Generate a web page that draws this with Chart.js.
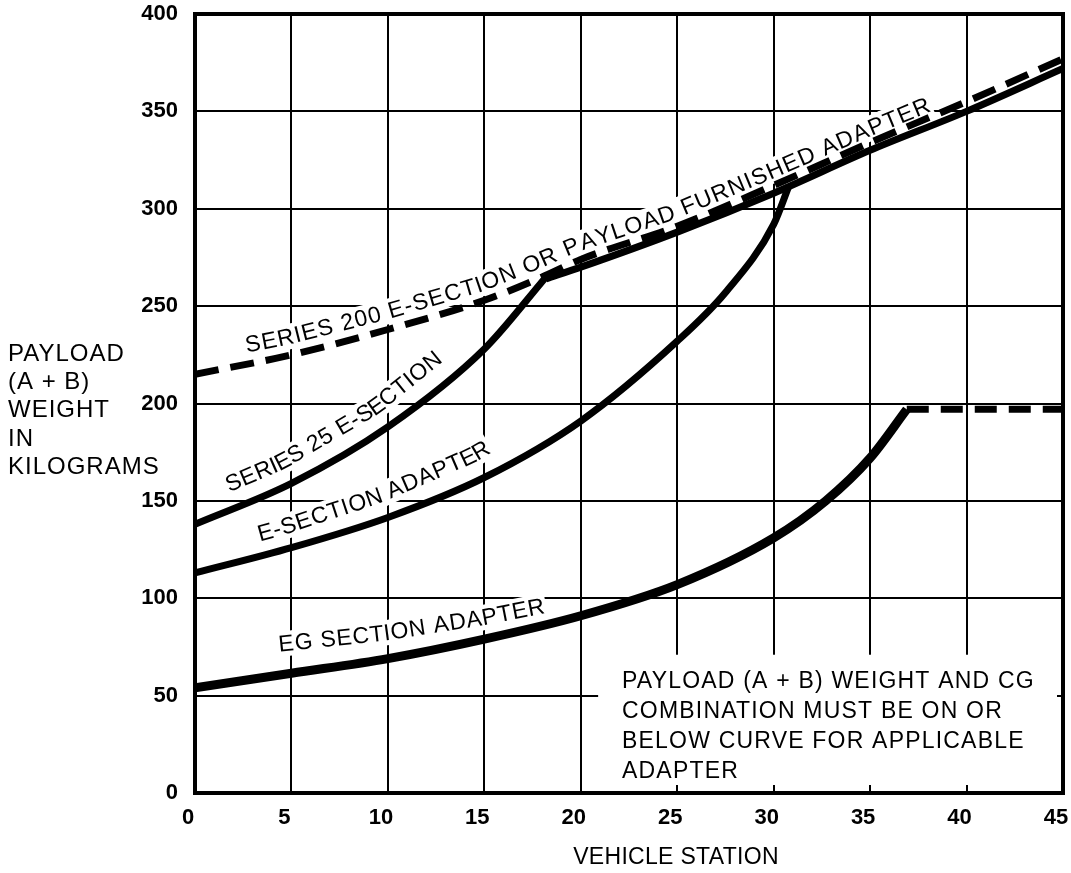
<!DOCTYPE html>
<html>
<head>
<meta charset="utf-8">
<title>Payload weight vs vehicle station</title>
<script src="https://cdn.jsdelivr.net/npm/chart.js@4.4.1/dist/chart.umd.min.js"></script>
<style>
    html, body { margin: 0; padding: 0; background: #fff; }
    #wrap { width: 1071px; height: 873px; }
</style>
</head>
<body>
<div id="wrap"><canvas id="payloadChart" width="1071" height="873"></canvas></div>
<script>
/* --------------------------
   DATA
--------------------------- */
const stationTicks = [0, 5, 10, 15, 20, 25, 30, 35, 40, 45];
const weightTicks = [0, 50, 100, 150, 200, 250, 300, 350, 400];

// Series 200 E-section or payload furnished adapter (dashed)
const s200Station = [0, 5, 10, 15, 18, 20, 25, 30, 35, 40, 45];
const s200Weight  = [215, 225, 238, 253, 265, 274, 291, 312, 334, 355, 377];

// solid limit line the series 25 / E-section curves run into
const upperStation = [18.2, 20, 25, 30, 35, 40, 45];
const upperWeight  = [264, 270, 288, 308, 330, 350, 372];

// Series 25 E-section
const s25Station = [0, 5, 10, 15, 18.2];
const s25Weight  = [138, 159, 188, 228, 265];

// E-section adapter
const eSecStation = [0, 5, 10, 15, 20, 25, 27.5, 30, 30.8];
const eSecWeight  = [113, 126, 141.5, 162, 191, 232, 257, 292, 312];

// EG section adapter + dashed flat limit
const egStation = [0, 5, 10, 15, 20, 25, 30, 32.7, 35, 36.9];
const egWeight  = [54, 61.5, 69, 79, 91, 107, 131, 150, 172, 197];
const egLimitStation = [36.9, 45];
const egLimitWeight  = [197, 197];

const curveNames = [
    'SERIES 200 E-SECTION OR PAYLOAD FURNISHED ADAPTER',
    'SERIES 25 E-SECTION',
    'E-SECTION ADAPTER',
    'EG SECTION ADAPTER'
];
const yTitleLines = ['PAYLOAD', '(A + B)', 'WEIGHT', 'IN', 'KILOGRAMS'];
const xTitle = 'VEHICLE STATION';
const noteLines = [
    'PAYLOAD (A + B) WEIGHT AND CG',
    'COMBINATION MUST BE ON OR',
    'BELOW CURVE FOR APPLICABLE',
    'ADAPTER'
];

const FONT = '"Liberation Sans", Arial, Helvetica, sans-serif';

function toPoints(xs, ys) {
    return xs.map((x, i) => ({ x: x, y: ys[i] }));
}

/* --------------------------
   TEXT ALONG A CURVE
--------------------------- */
function buildPath(chart, xs, ys) {
    const sx = chart.scales.x, sy = chart.scales.y;
    const pts = xs.map((x, i) => ({ x: sx.getPixelForValue(x), y: sy.getPixelForValue(ys[i]) }));
    const cum = [0];
    for (let i = 1; i < pts.length; i++) {
        cum.push(cum[i - 1] + Math.hypot(pts[i].x - pts[i - 1].x, pts[i].y - pts[i - 1].y));
    }
    return { pts, cum };
}

function pointAt(path, s) {
    const { pts, cum } = path;
    let i = 0;
    while (i < pts.length - 2 && s > cum[i + 1]) i++;
    const t = (s - cum[i]) / (cum[i + 1] - cum[i]);
    return {
        x: pts[i].x + (pts[i + 1].x - pts[i].x) * t,
        y: pts[i].y + (pts[i + 1].y - pts[i].y) * t
    };
}

function arcAtX(path, px) {
    const { pts, cum } = path;
    let i = 0;
    while (i < pts.length - 2 && px > pts[i + 1].x) i++;
    const t = (px - pts[i].x) / (pts[i + 1].x - pts[i].x);
    return cum[i] + (cum[i + 1] - cum[i]) * t;
}

function layoutLabel(chart, lbl) {
    const ctx = chart.ctx;
    const path = buildPath(chart, lbl.xs, lbl.ys);
    ctx.save();
    ctx.font = lbl.font;
    const chars = [...lbl.text];
    const widths = chars.map(c => ctx.measureText(c).width);
    ctx.restore();
    const total = widths.reduce((a, b) => a + b, 0) + lbl.spacing * (chars.length - 1);
    const s0 = arcAtX(path, chart.scales.x.getPixelForValue(lbl.from));

    const base = (s) => {
        const t = (s - s0) / total;
        const off = lbl.off[0] + (lbl.off[1] - lbl.off[0]) * t;
        const p = pointAt(path, s);
        const a = pointAt(path, s - 15), b = pointAt(path, s + 15);
        let dx = b.x - a.x, dy = b.y - a.y;
        const len = Math.hypot(dx, dy);
        dx /= len; dy /= len;
        return { x: p.x + dy * off, y: p.y - dx * off };
    };

    let s = s0;
    return chars.map((c, i) => {
        const mid = s + widths[i] / 2;
        const p = base(mid);
        const a = base(mid - 12), b = base(mid + 12);
        s += widths[i] + lbl.spacing;
        return { c, x: p.x, y: p.y, ang: Math.atan2(b.y - a.y, b.x - a.x), w: widths[i] };
    });
}

const curveLabels = [
    { text: curveNames[0], xs: s200Station, ys: s200Weight, from: 2.8, off: [11, 5], spacing: 1.2 },
    { text: curveNames[1], xs: s25Station, ys: s25Weight, from: 2.1, off: [16, 16], spacing: 0.5 },
    { text: curveNames[2], xs: eSecStation, ys: eSecWeight, from: 3.55, off: [14, 18], spacing: 0.8 },
    { text: curveNames[3], xs: egStation, ys: egWeight, from: 4.55, off: [23, 11], spacing: 0.8 }
];
curveLabels.forEach(l => l.font = '23px ' + FONT);

/* --------------------------
   PLUGIN: masks, labels, titles, frame
--------------------------- */
const annotations = {
    id: 'annotations',
    beforeDatasetsDraw(chart) {
        const ctx = chart.ctx;
        const sx = chart.scales.x, sy = chart.scales.y;
        const area = chart.chartArea;
        ctx.save();
        ctx.fillStyle = '#fff';
        // white block behind the note (grid is broken there)
        const nx = sx.getPixelForValue(20.9);
        const ny = sy.getPixelForValue(71);
        ctx.fillRect(nx, ny, area.right - 6 - nx, area.bottom - 8 - ny);
        // white band behind each curve label
        curveLabels.forEach(lbl => {
            layoutLabel(chart, lbl).forEach(g => {
                ctx.save();
                ctx.translate(g.x, g.y);
                ctx.rotate(g.ang);
                ctx.fillRect(-g.w / 2 - lbl.spacing - 1, -20, g.w + 2 * lbl.spacing + 2, 25);
                ctx.restore();
            });
        });
        ctx.restore();
    },
    afterDatasetsDraw(chart) {
        const ctx = chart.ctx;
        const area = chart.chartArea;
        ctx.save();
        ctx.fillStyle = '#000';

        // labels along curves
        curveLabels.forEach(lbl => {
            ctx.font = lbl.font;
            ctx.textAlign = 'center';
            ctx.textBaseline = 'alphabetic';
            layoutLabel(chart, lbl).forEach(g => {
                ctx.save();
                ctx.translate(g.x, g.y);
                ctx.rotate(g.ang);
                ctx.fillText(g.c, 0, 0);
                ctx.restore();
            });
        });

        // y axis title, stacked lines on the left
        ctx.textAlign = 'left';
        ctx.textBaseline = 'middle';
        ctx.font = '24px ' + FONT;
        ctx.letterSpacing = '1px';
        yTitleLines.forEach((t, i) => ctx.fillText(t, 8, 354 + i * 28.3));

        // x axis title
        ctx.textAlign = 'center';
        ctx.font = '23px ' + FONT;
        ctx.letterSpacing = '0.3px';
        ctx.fillText(xTitle, 676, 858);

        // note in the lower right
        ctx.textAlign = 'left';
        ctx.letterSpacing = '1.2px';
        noteLines.forEach((t, i) => ctx.fillText(t, 622, 682 + i * 30));
        ctx.letterSpacing = '0px';

        // heavy frame round the plot
        ctx.strokeStyle = '#000';
        ctx.lineWidth = 4;
        ctx.strokeRect(area.left, area.top, area.right - area.left, area.bottom - area.top);
        ctx.restore();
    }
};

/* --------------------------
   CHART
--------------------------- */
const lineStyle = {
    borderColor: '#000',
    backgroundColor: '#000',
    pointRadius: 0,
    fill: false,
    cubicInterpolationMode: 'monotone',
    borderCapStyle: 'butt'
};

const ctx = document.getElementById('payloadChart').getContext('2d');

const payloadChart = new Chart(ctx, {
    type: 'line',
    data: {
        datasets: [
            { label: 'Series 200 E-Section or payload furnished adapter', data: toPoints(s200Station, s200Weight), borderWidth: 7, borderDash: [24, 12], ...lineStyle },
            { label: 'Upper limit', data: toPoints(upperStation, upperWeight), borderWidth: 7, ...lineStyle },
            { label: 'Series 25 E-Section', data: toPoints(s25Station, s25Weight), borderWidth: 7, ...lineStyle },
            { label: 'E-Section adapter', data: toPoints(eSecStation, eSecWeight), borderWidth: 7, ...lineStyle },
            { label: 'EG section adapter', data: toPoints(egStation, egWeight), borderWidth: 9, ...lineStyle },
            { label: 'EG limit', data: toPoints(egLimitStation, egLimitWeight), borderWidth: 7, borderDash: [22, 12], ...lineStyle }
        ]
    },
    options: {
        responsive: false,
        animation: false,
        events: [],
        layout: { padding: { left: 0, right: 8, top: 14, bottom: 0 } },
        plugins: {
            legend: { display: false },
            tooltip: { enabled: false }
        },
        scales: {
            x: {
                type: 'linear',
                min: 0,
                max: 45,
                afterBuildTicks: axis => { axis.ticks = stationTicks.map(v => ({ value: v })); },
                afterFit: axis => {
                    axis.height = 80;
                    axis.paddingLeft = 0;
                    axis.paddingRight = 0;
                },
                grid: { color: '#000', lineWidth: 2, drawTicks: false },
                border: { display: false },
                ticks: {
                    color: '#000',
                    padding: 12,
                    labelOffset: -7,
                    maxRotation: 0,
                    autoSkip: false,
                    font: { family: FONT, size: 22, weight: 'bold' }
                }
            },
            y: {
                min: 0,
                max: 400,
                afterBuildTicks: axis => { axis.ticks = weightTicks.map(v => ({ value: v })); },
                afterFit: axis => {
                    axis.width = 195;
                    axis.paddingTop = 0;
                    axis.paddingBottom = 0;
                },
                grid: { color: '#000', lineWidth: 2, drawTicks: false },
                border: { display: false },
                ticks: {
                    color: '#000',
                    padding: 17,
                    font: { family: FONT, size: 22, weight: 'bold' }
                }
            }
        }
    },
    plugins: [annotations]
});
</script>
</body>
</html>
